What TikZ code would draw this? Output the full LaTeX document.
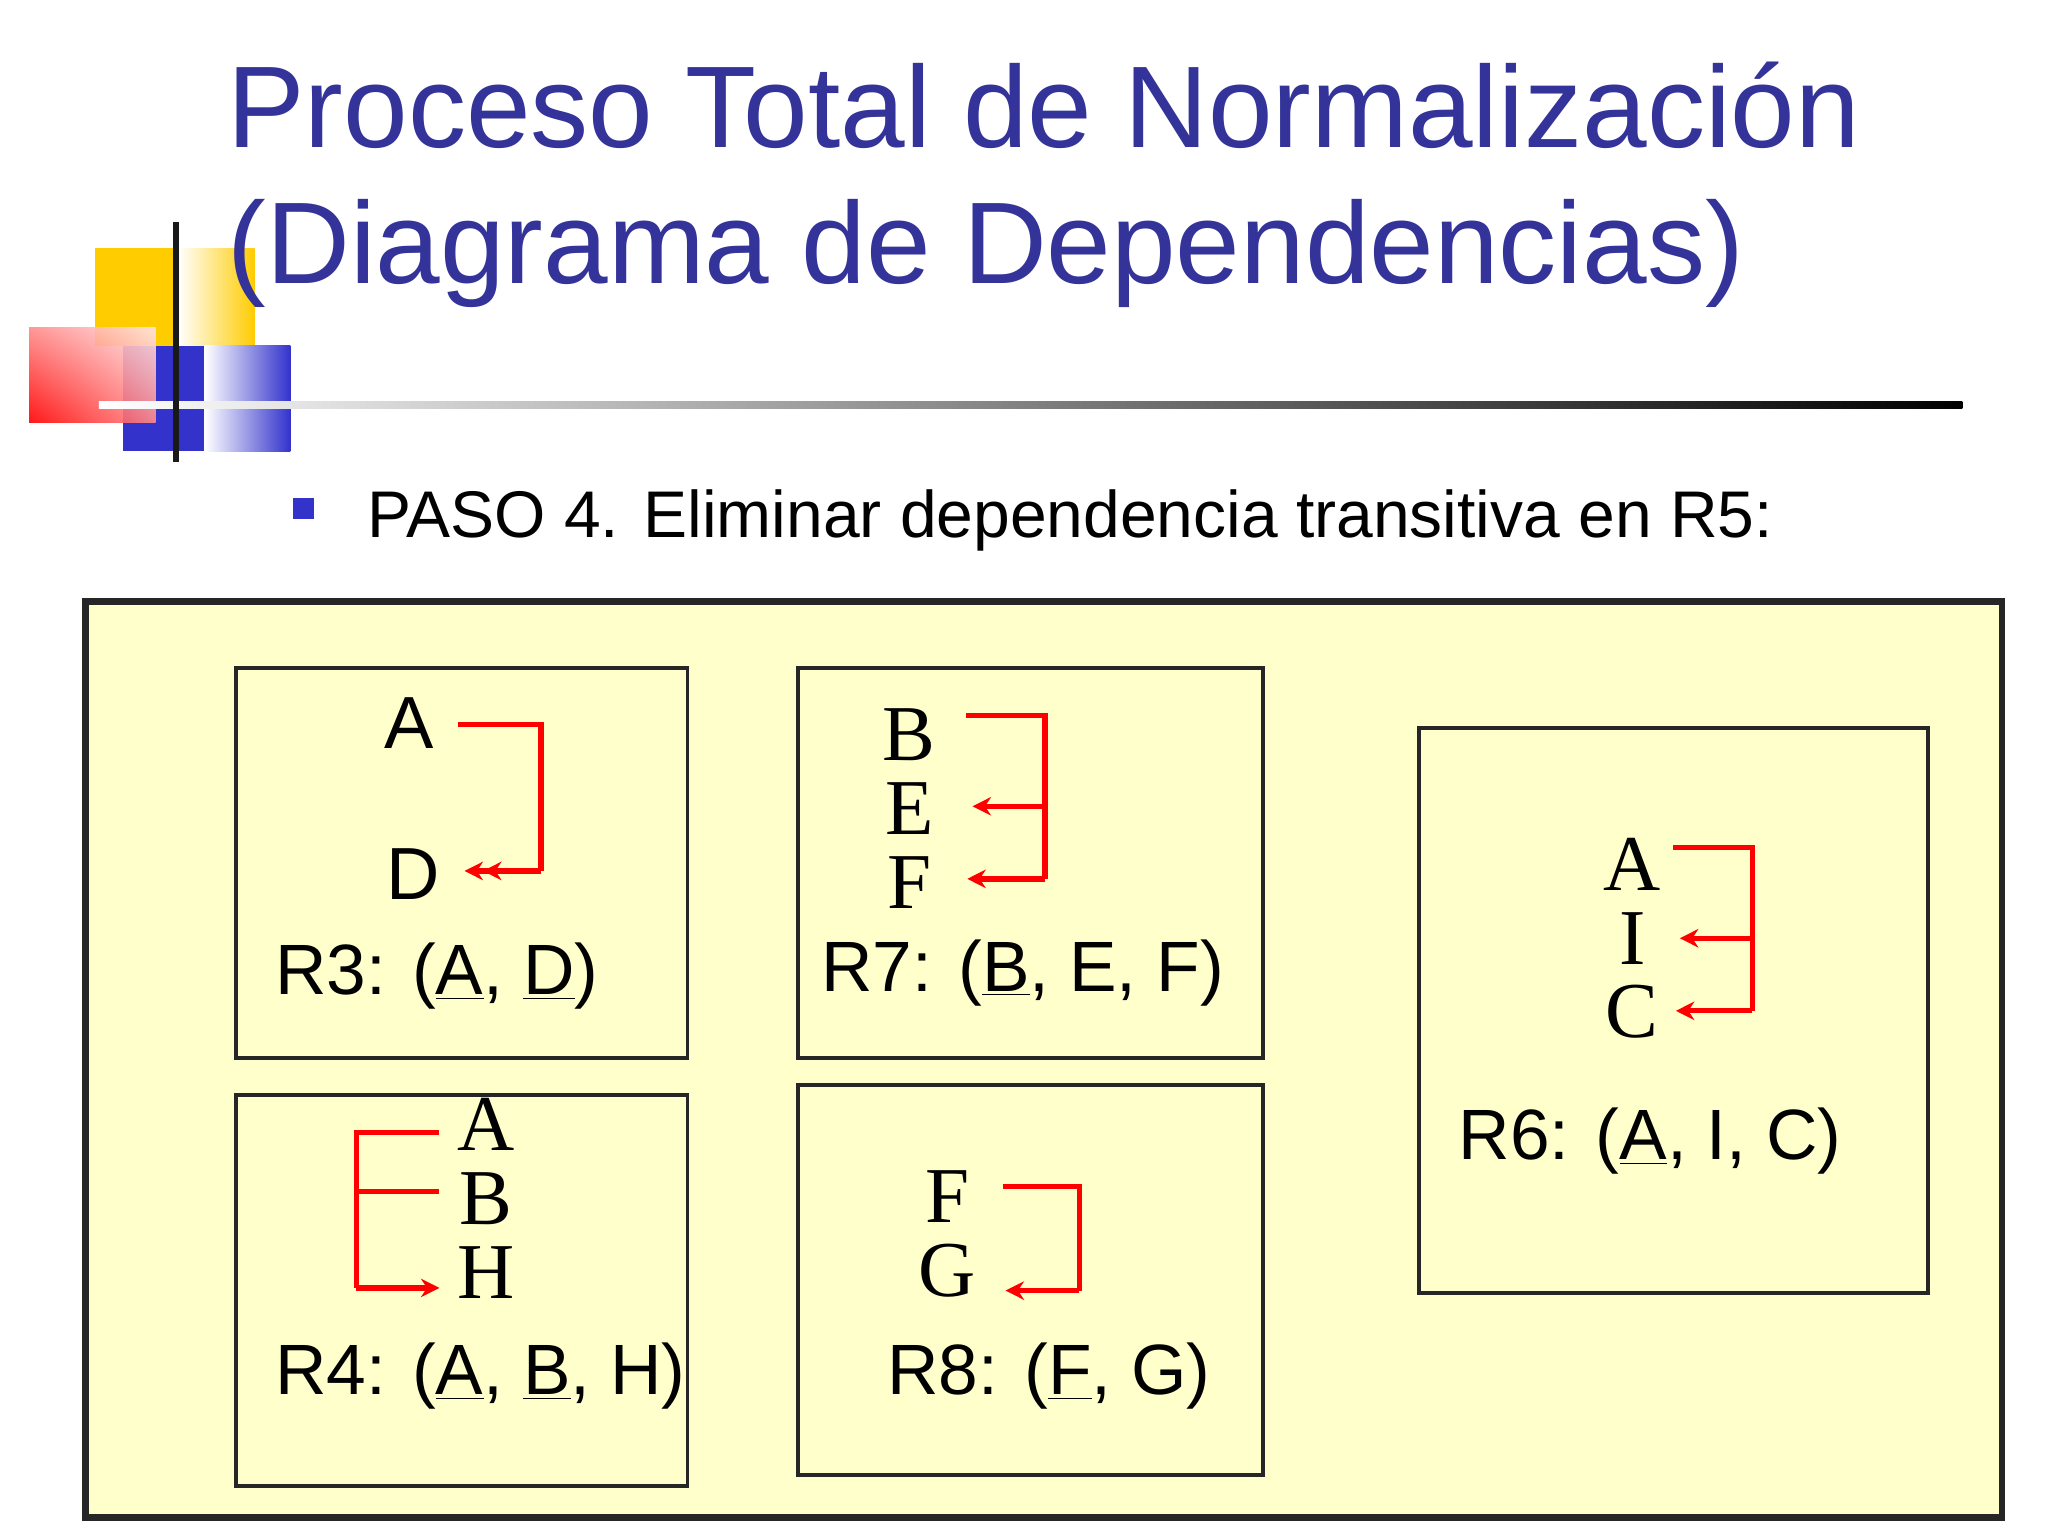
\documentclass[tikz,border=0pt]{standalone}
\usepackage{fontspec}
\setmainfont{Liberation Sans}
\newfontfamily\serifx{Liberation Serif}
\usetikzlibrary{arrows.meta,shadings}
\definecolor{ttl}{HTML}{333399}
\definecolor{paper}{HTML}{FFFFCC}
\definecolor{blu}{HTML}{3333CC}
\definecolor{yel}{HTML}{FFCC00}
\tikzset{
  rbox/.style={draw=black!85,line width=1.5pt},
  dep/.style={draw=red,line width=2pt},
  darr/.style={dep,-{Stealth[length=7pt,width=7pt]}},
  ddarr/.style={dep,-{Stealth[length=7pt,width=7pt]Stealth[length=7pt,width=7pt]}},
  sl/.style={font=\fontsize{28}{30}\selectfont,inner sep=0pt},
  tl/.style={font=\serifx\fontsize{30}{32}\selectfont,inner sep=0pt},
  lbl/.style={font=\fontsize{27}{30}\selectfont,inner sep=0pt,anchor=west},
}
\begin{document}
\begin{tikzpicture}[x=0.5pt,y=-0.5pt]
\useasboundingbox (0,0) rectangle (1552,1164);
\fill[white] (0,0) rectangle (1552,1164);
% logo
\fill[yel] (72,188) rectangle (135,262);
\shade[left color=white,right color=yel] (135,188) rectangle (193,262);
\fill[blu] (93,262) rectangle (155,342);
\shade[left color=white,right color=blu] (155,262) rectangle (220,342);
\shade[lower left=red,upper right=red!10,upper left=red!45,lower right=red!45,opacity=0.9] (22,248) rectangle (118,320);
\shade[left color=white,right color=black] (75,304.5) rectangle (1487,309.5);
\fill[black!90] (131,168) rectangle (136,350);
% title
\node[anchor=base west,inner sep=0pt,text=ttl,font=\fontsize{44}{48}\selectfont] (t1) at (172,112) {Proceso Total de Normalización};
\node[anchor=base west,inner sep=0pt,text=ttl,font=\fontsize{44}{48}\selectfont] (t2) at (172,215) {(Diagrama de Dependencias)};
% bullet
\fill[blu] (222,377) rectangle (238,393);
\node[anchor=base west,inner sep=0pt,font=\fontsize{25}{28}\selectfont] (paso) at (278,407) {PASO 4. Eliminar dependencia transitiva en R5:};
% outer
\draw[fill=paper,draw=black!85,line width=2.5pt] (65,456) rectangle (1517,1150);
\draw[rbox] (179,506) rectangle (521,802);
\draw[rbox] (605,506) rectangle (957,802);
\draw[rbox] (179,830) rectangle (521,1126);
\draw[rbox] (605,822) rectangle (957,1118);
\draw[rbox] (1075,552) rectangle (1461,980);
% R3
\node[sl] (a3) at (310,548) {A};
\node[sl] (d3) at (313,662) {D};
\coordinate (a3s) at (347,549); \coordinate (a3c) at (410,549);
\coordinate (d3c) at (410,660); \coordinate (d3e) at (352,660);
\draw[dep] (a3s) -- (a3c) -- (d3c);
\draw[ddarr] (d3c) -- (d3e);
\node[lbl] (r3) at (208,740) {R3: (\underline{A}, \underline{D})};
% R7
\node[tl] (b7) at (689,557) {B};
\node[tl] (e7) at (689,613) {E};
\node[tl] (f7) at (689,669) {F};
\coordinate (b7s) at (732,542); \coordinate (b7c) at (792,542);
\coordinate (e7c) at (792,611); \coordinate (f7c) at (792,666);
\draw[dep] (b7s) -- (b7c) -- (f7c);
\draw[darr] (e7c) -- (737,611);
\draw[darr] (f7c) -- (733,666);
\node[lbl] (r7) at (622,737) {R7: (\underline{B}, E, F)};
% R4
\node[tl] (a4) at (368,852) {A};
\node[tl] (b4) at (368,908) {B};
\node[tl] (h4) at (368,964) {H};
\coordinate (a4s) at (333,858); \coordinate (a4c) at (270,858);
\coordinate (b4s) at (333,903); \coordinate (b4c) at (270,903);
\coordinate (h4c) at (270,976); \coordinate (h4e) at (333,976);
\draw[dep] (a4s) -- (a4c) -- (h4c);
\draw[dep] (b4s) -- (b4c);
\draw[darr] (h4c) -- (h4e);
\node[lbl] (r4) at (208,1043) {R4: (\underline{A}, \underline{B}, H)};
% R8
\node[tl] (f8) at (718,907) {F};
\node[tl] (g8) at (718,963) {G};
\coordinate (f8s) at (760,899); \coordinate (f8c) at (818,899);
\coordinate (g8c) at (818,978); \coordinate (g8e) at (762,978);
\draw[dep] (f8s) -- (f8c) -- (g8c);
\draw[darr] (g8c) -- (g8e);
\node[lbl] (r8) at (672,1043) {R8: (\underline{F}, G)};
% R6
\node[tl] (a6) at (1237,655) {A};
\node[tl] (i6) at (1237,711) {I};
\node[tl] (c6) at (1237,767) {C};
\coordinate (a6s) at (1268,642); \coordinate (a6c) at (1328,642);
\coordinate (i6c) at (1328,711); \coordinate (c6c) at (1328,766);
\draw[dep] (a6s) -- (a6c) -- (c6c);
\draw[darr] (i6c) -- (1273,711);
\draw[darr] (c6c) -- (1270,766);
\node[lbl] (r6) at (1105,865) {R6: (\underline{A}, I, C)};
\end{tikzpicture}
\end{document}
